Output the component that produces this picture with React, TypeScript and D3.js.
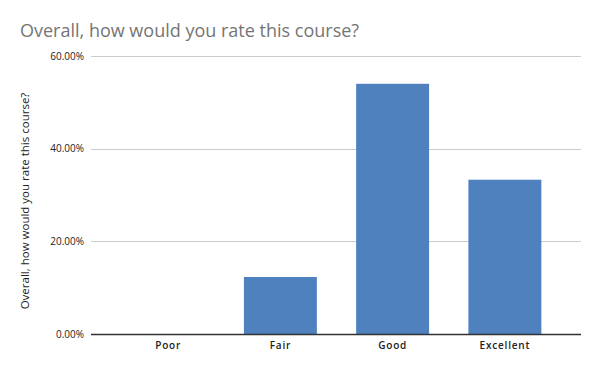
import { useEffect, useRef } from 'react';
import * as d3 from 'd3';

const CATEGORIES = ['Poor', 'Fair', 'Good', 'Excellent'];
const SHARES = [0, 0.123, 0.54, 0.333];
const Y_TICKS = [0, 0.2, 0.4, 0.6];

const TITLE = 'Overall, how would you rate this course?';
const Y_TITLE = 'Overall, how would you rate this course?';

const WIDTH = 600;
const HEIGHT = 371;
const PLOT = { left: 91, right: 581, top: 56, bottom: 334 };

const BAR_FILL = '#4e81bd';
const FONT = '"Open Sans", "Noto Sans", Arial, sans-serif';

export default function App() {
  const svgRef = useRef<SVGSVGElement>(null);

  useEffect(() => {
    document.body.style.margin = '0';
    const svg = d3.select(svgRef.current);
    svg.selectAll('*').remove();
    svg.style('font-family', FONT);

    // Scales ---------------------------------------------------------------
    const x = d3
      .scaleBand<string>()
      .domain(CATEGORIES)
      .range([112, 561])
      .paddingInner(0.35)
      .paddingOuter(0.175);

    const y = d3.scaleLinear().domain([0, 0.6]).range([PLOT.bottom, PLOT.top]);

    // Title
    svg
      .append('text')
      .attr('x', 20)
      .attr('y', 37)
      .style('font-size', '18px')
      .style('fill', '#757575')
      .text(TITLE);

    // Gridlines + tick labels ---------------------------------------------
    svg
      .append('g')
      .selectAll('line')
      .data(Y_TICKS.filter((t) => t > 0))
      .join('line')
      .attr('x1', PLOT.left)
      .attr('x2', PLOT.right)
      .attr('y1', (t) => Math.round(y(t)) + 0.5)
      .attr('y2', (t) => Math.round(y(t)) + 0.5)
      .attr('stroke', '#cccccc')
      .attr('stroke-width', 1);

    svg
      .append('g')
      .selectAll('text')
      .data(Y_TICKS)
      .join('text')
      .attr('x', 84)
      .attr('y', (t) => y(t))
      .attr('dy', '0.35em')
      .attr('text-anchor', 'end')
      .style('font-size', '10px')
      .style('fill', '#222')
      .text((t) => d3.format('.2%')(t));

    // Bars -------------------------------------------------------------------
    svg
      .append('g')
      .selectAll('rect')
      .data(CATEGORIES.map((c, i) => ({ c, v: SHARES[i] })))
      .join('rect')
      .attr('x', (d) => x(d.c)!)
      .attr('y', (d) => y(d.v))
      .attr('width', x.bandwidth())
      .attr('height', (d) => y(0) - y(d.v))
      .attr('fill', BAR_FILL);

    // Baseline
    svg
      .append('line')
      .attr('x1', PLOT.left)
      .attr('x2', PLOT.right)
      .attr('y1', Math.round(y(0)) + 0.5)
      .attr('y2', Math.round(y(0)) + 0.5)
      .attr('stroke', '#333')
      .attr('stroke-width', 1.3);

    // X labels
    svg
      .append('g')
      .selectAll('text')
      .data(CATEGORIES)
      .join('text')
      .attr('x', (c) => x(c)! + x.bandwidth() / 2)
      .attr('y', 349)
      .attr('text-anchor', 'middle')
      .style('font-size', '10px')
      .style('font-weight', '600')
      .style('letter-spacing', '0.8px')
      .style('fill', '#222')
      .text((c) => c);

    // Y axis title
    svg
      .append('text')
      .attr('transform', `translate(28.5,201) rotate(-90)`)
      .attr('text-anchor', 'middle')
      .style('font-size', '11.5px')
      .style('fill', '#222')
      .text(Y_TITLE);
  }, []);

  return <svg ref={svgRef} width={WIDTH} height={HEIGHT} style={{ display: 'block', background: '#fff' }} />;
}
